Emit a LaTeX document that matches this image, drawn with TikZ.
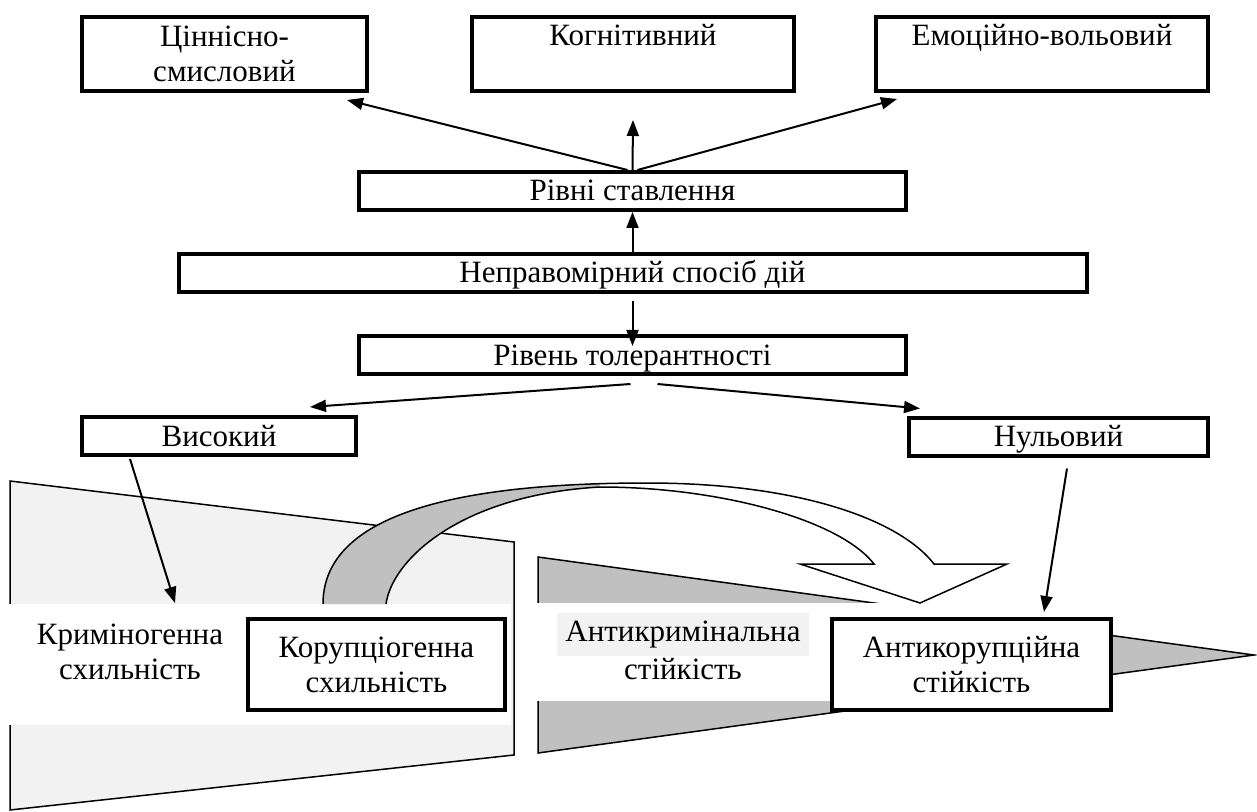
\documentclass[tikz,border=0pt]{standalone}
\usepackage{fontspec}
\setmainfont{Liberation Serif}
\usepackage{xcolor}
\usetikzlibrary{arrows.meta,positioning,calc}
\definecolor{paleshade}{HTML}{F2F2F2}
\definecolor{midshade}{HTML}{C0C0C0}
\setlength{\fboxsep}{4pt}

\begin{document}
\begin{tikzpicture}[
        x=0.5pt, y=-0.5pt,
        node distance=20pt,
        block/.style={draw, line width=2pt, fill=white, align=center, inner sep=2pt, font=\fontsize{15.5}{17.5}\selectfont},
        topblock/.style={block, minimum height=37pt},
        toptext/.style={inner ysep=0pt, text height=14.5pt, text depth=22.5pt},
        midblock/.style={block, minimum height=19pt, text height=12pt, text depth=2pt},
        plain/.style={align=center, inner sep=0pt, font=\fontsize{15.5}{17.5}\selectfont},
        backdrop/.style={draw, line width=0.75pt},
        ribbon/.style={insert path={(323,604) .. controls (323,520) and (440,483) .. (647,483)
            .. controls (800,483) and (900,520) .. (934,564) -- (1007,564) -- (920,603) -- (800,564) -- (874,564)
            .. controls (840,520) and (720,487) .. (600,487) .. controls (460,495) and (392,560) .. (386,604)}},
        line/.style={-{Triangle[length=8pt,width=6pt]}, line width=1pt}
    ]
        \useasboundingbox (0,0) rectangle (1257,812);
        % background figures
        \filldraw[backdrop, fill=paleshade] (10,481) -- (514,542) -- (514,755) -- (10,810) -- cycle;
        \filldraw[backdrop, fill=midshade] (538,557) -- (1254,655) -- (538,753) -- cycle;
        \fill[white] (8,604) rectangle (511,725);
        \fill[white] (536,603) rectangle (1000,701);
        % curved arrow
        \fill[white, ribbon] -- cycle;
        \begin{scope}
            \clip (0,0) rectangle (600,604);
            \fill[midshade, ribbon] -- cycle;
        \end{scope}
        \draw[backdrop, ribbon];

        \node[topblock, minimum width=142.5pt] (cin) at (224.5,54) {Ціннісно-\\смисловий};
        \node[topblock, toptext, minimum width=161pt] (kog) at (633,54) {Когнітивний};
        \node[topblock, toptext, minimum width=166pt] (emo) at (1042,54) {Емоційно-вольовий};
        \node[midblock, minimum width=273.5pt] (riv) at (632.5,191) {Рівні ставлення};
        \node[midblock, minimum width=454pt, below=of riv] (nepr) {Неправомірний спосіб дій};
        \node[midblock, minimum width=273.5pt, below=of nepr] (tol) {Рівень толерантності};
        \node[midblock, minimum width=137pt] (vys) at (219,436) {Високий};
        \node[midblock, minimum width=149.5pt] (nul) at (1058.5,436.5) {Нульовий};
        \node[block, minimum width=128.5pt, minimum height=45.5pt] (kor) at (376.5,664.5) {Корупціогенна\\схильність};
        \node[block, minimum width=139.5pt, minimum height=45.5pt] (akor) at (971.5,664.5) {Антикорупційна\\стійкість};
        \node[plain] (krim) at (130,652) {Криміногенна\\схильність};
        \node[plain] (akrim) at (683,646) {\colorbox{paleshade}{Антикримінальна}\\стійкість};
        \coordinate (krimtip) at (175,603);

        \draw[line] ([shift={(-5,0)}]riv.north) -- ([shift={(-22,7)}]cin.south east);
        \draw[line] (riv.north) -- ([shift={(0,27)}]kog.south);
        \draw[line] ([shift={(5,0)}]riv.north) -- ([shift={(23,6)}]emo.south west);
        \draw[line] (nepr.north) -- (riv.south);
        \draw[line] ([shift={(0,7)}]nepr.south) -- ([shift={(0,12)}]tol.north);
        \draw[line] ([shift={(-2,8)}]tol.south) -- ([shift={(-48,-8)}]vys.north east);
        \draw[line] ([shift={(25,8)}]tol.south) -- ([shift={(13,-7)}]nul.north west);
        \draw[line] ([shift={(50,2)}]vys.south west) -- (krimtip);
        \draw[line] ([shift={(8.5,11)}]nul.south) -- ([shift={(72.5,-5)}]akor.north);
    \end{tikzpicture}
\end{document}
